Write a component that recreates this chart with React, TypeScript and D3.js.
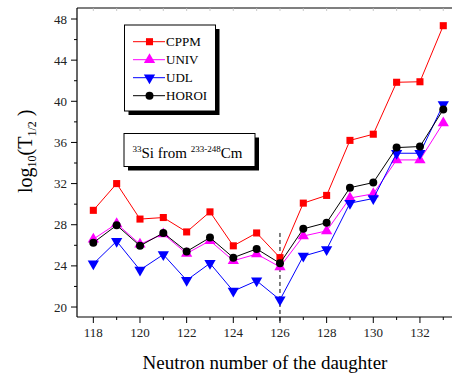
import React, { useEffect, useRef } from "react";
import * as d3 from "d3";

// neutron number of the daughter
const neutrons = [118, 119, 120, 121, 122, 123, 124, 125, 126, 127, 128, 129, 130, 131, 132, 133];

// log10(T1/2) per model
const cppm = [29.4, 32.0, 28.55, 28.7, 27.3, 29.25, 25.95, 27.2, 24.8, 30.1, 30.85, 36.2, 36.8, 41.85, 41.9, 47.35];
const univ = [26.6, 28.1, 26.1, 27.1, 25.2, 26.45, 24.5, 25.15, 23.9, 26.9, 27.4, 30.6, 31.0, 34.3, 34.3, 37.9];
const udl = [24.2, 26.4, 23.6, 25.1, 22.6, 24.25, 21.55, 22.55, 20.7, 24.95, 25.6, 30.1, 30.55, 34.95, 34.95, 39.7];
const horoi = [26.25, 27.95, 25.95, 27.2, 25.4, 26.75, 24.8, 25.65, 24.25, 27.6, 28.2, 31.6, 32.1, 35.5, 35.6, 39.2];

const yTicks = [20, 24, 28, 32, 36, 40, 44, 48];
const xTicks = [118, 120, 122, 124, 126, 128, 130, 132];

const series = [
  { name: "CPPM", values: cppm, color: "#ff0000", shape: "square" },
  { name: "UNIV", values: univ, color: "#ff00ff", shape: "up" },
  { name: "UDL", values: udl, color: "#0000ff", shape: "down" },
  { name: "HOROI", values: horoi, color: "#000000", shape: "circle" },
];

const FONT = "Liberation Serif, serif";

const symbolFor = (shape: string) => {
  if (shape === "square") return d3.symbol().type(d3.symbolSquare).size(50)();
  if (shape === "circle") return d3.symbol().type(d3.symbolCircle).size(50)();
  return d3.symbol().type(d3.symbolTriangle).size(55)();
};

export default function App() {
  const ref = useRef<SVGSVGElement>(null);

  useEffect(() => {
    const height = 374;
    const margin = { left: 77, top: 8, bottom: 57 };

    const svg = d3.select(ref.current);
    svg.selectAll("*").remove();

    const x = d3.scaleLinear().domain([117.3, 133.3]).range([margin.left, margin.left + 16 * 23.33]);
    const y = d3.scaleLinear().domain([19.03, 49.07]).range([height - margin.bottom, margin.top]);

    const x0 = margin.left;
    const x1 = x(133.3);
    const y0 = y(19.03);
    const y1 = y(49.07);

    // frame
    svg.append("line").attr("x1", x0).attr("x2", x1 + 10).attr("y1", y1).attr("y2", y1).attr("stroke", "#000").attr("stroke-width", 1.2);
    svg.append("line").attr("x1", x0).attr("x2", x0).attr("y1", y1).attr("y2", y0).attr("stroke", "#000").attr("stroke-width", 1.2);

    // top faint ticks
    svg
      .append("g")
      .selectAll("line")
      .data(d3.range(118, 134))
      .join("line")
      .attr("x1", (d) => x(d))
      .attr("x2", (d) => x(d))
      .attr("y1", y1)
      .attr("y2", y1 + 3)
      .attr("stroke", "#bbb")
      .attr("stroke-width", 0.8);

    // bottom axis
    const xAxis = svg.append("g").attr("transform", `translate(0,${y0})`);
    xAxis.append("line").attr("x1", x0).attr("x2", x1 + 10).attr("stroke", "#000").attr("stroke-width", 1.2);
    xAxis
      .selectAll("line.minor")
      .data(d3.range(118, 134))
      .join("line")
      .attr("class", "minor")
      .attr("x1", (d) => x(d))
      .attr("x2", (d) => x(d))
      .attr("y1", 0)
      .attr("y2", (d) => (d % 2 === 0 ? 6 : 3))
      .attr("stroke", "#000");
    xAxis
      .selectAll("text")
      .data(xTicks)
      .join("text")
      .attr("x", (d) => x(d))
      .attr("y", 20)
      .attr("text-anchor", "middle")
      .attr("font-family", FONT)
      .attr("font-size", 13)
      .attr("fill", "#222")
      .text((d) => d);

    // left axis
    const yAxis = svg.append("g").attr("transform", `translate(${x0},0)`);
    yAxis
      .selectAll("line")
      .data(d3.range(20, 49, 2))
      .join("line")
      .attr("x1", 0)
      .attr("x2", (d) => (d % 4 === 0 ? -6 : -3))
      .attr("y1", (d) => y(d))
      .attr("y2", (d) => y(d))
      .attr("stroke", "#000");
    yAxis
      .selectAll("text")
      .data(yTicks)
      .join("text")
      .attr("x", -10)
      .attr("y", (d) => y(d) + 4.5)
      .attr("text-anchor", "end")
      .attr("font-family", FONT)
      .attr("font-size", 13)
      .attr("fill", "#222")
      .text((d) => d);

    // dashed line at N = 126
    svg
      .append("line")
      .attr("x1", x(126))
      .attr("x2", x(126))
      .attr("y1", y(27.2))
      .attr("y2", y0 + 5)
      .attr("stroke", "#000")
      .attr("stroke-width", 1)
      .attr("stroke-dasharray", "4,3");

    // series
    const line = d3
      .line<number>()
      .x((_, i) => x(neutrons[i]))
      .y((d) => y(d));

    series.forEach((s) => {
      svg.append("path").attr("d", line(s.values)).attr("fill", "none").attr("stroke", s.color).attr("stroke-width", 1);
      svg
        .append("g")
        .selectAll("path")
        .data(s.values)
        .join("path")
        .attr("d", symbolFor(s.shape))
        .attr("transform", (d, i) => `translate(${x(neutrons[i])},${y(d)})${s.shape === "down" ? " rotate(180)" : ""}`)
        .attr("fill", s.color);
    });

    // legend box
    const lg = svg.append("g");
    lg.append("rect").attr("x", 128.5).attr("y", 29).attr("width", 91).attr("height", 86).attr("fill", "#000");
    lg.append("rect").attr("x", 124.5).attr("y", 25).attr("width", 91).attr("height", 86).attr("fill", "#fff").attr("stroke", "#000");
    series.forEach((s, i) => {
      const ly = 41.7 + i * 18;
      lg.append("line").attr("x1", 133).attr("x2", 165).attr("y1", ly).attr("y2", ly).attr("stroke", s.color).attr("stroke-width", 1);
      lg.append("path")
        .attr("d", symbolFor(s.shape))
        .attr("transform", `translate(149.5,${ly})${s.shape === "down" ? " rotate(180)" : ""}`)
        .attr("fill", s.color);
      lg.append("text")
        .attr("x", 166)
        .attr("y", ly + 4.5)
        .attr("font-family", FONT)
        .attr("font-size", 13)
        .attr("fill", "#000")
        .text(s.name);
    });

    // annotation box
    const ab = svg.append("g");
    ab.append("rect").attr("x", 128).attr("y", 137.5).attr("width", 131).attr("height", 33).attr("fill", "#000");
    ab.append("rect").attr("x", 124).attr("y", 133.5).attr("width", 131).attr("height", 33).attr("fill", "#fff").attr("stroke", "#000");
    const at = ab.append("text").attr("x", 132.5).attr("y", 157.5).attr("font-family", FONT).attr("font-size", 15).attr("fill", "#000");
    at.append("tspan").attr("font-size", 9).attr("dy", -6).text("33");
    at.append("tspan").attr("dy", 6).text("Si from ");
    at.append("tspan").attr("font-size", 9).attr("dy", -6).text("233-248");
    at.append("tspan").attr("dy", 6).text("Cm");

    // axis titles
    svg
      .append("text")
      .attr("x", 265)
      .attr("y", 369)
      .attr("text-anchor", "middle")
      .attr("font-family", FONT)
      .attr("font-size", 19)
      .attr("fill", "#000")
      .text("Neutron number of the daughter");

    const yl = svg
      .append("text")
      .attr("transform", `translate(32,193) rotate(-90)`)
      .attr("text-anchor", "start")
      .attr("font-family", FONT)
      .attr("font-size", 20)
      .attr("fill", "#000");
    yl.append("tspan").text("log");
    yl.append("tspan").attr("font-size", 12).attr("dy", 4).text("10");
    yl.append("tspan").attr("dy", -4).text("(T");
    yl.append("tspan").attr("font-size", 12).attr("dy", 4).text("1/2");
    yl.append("tspan").attr("dy", -4).text(" )");
  }, []);

  return <svg ref={ref} width={452} height={374} style={{ position: "absolute", left: 0, top: 0 }} />;
}
